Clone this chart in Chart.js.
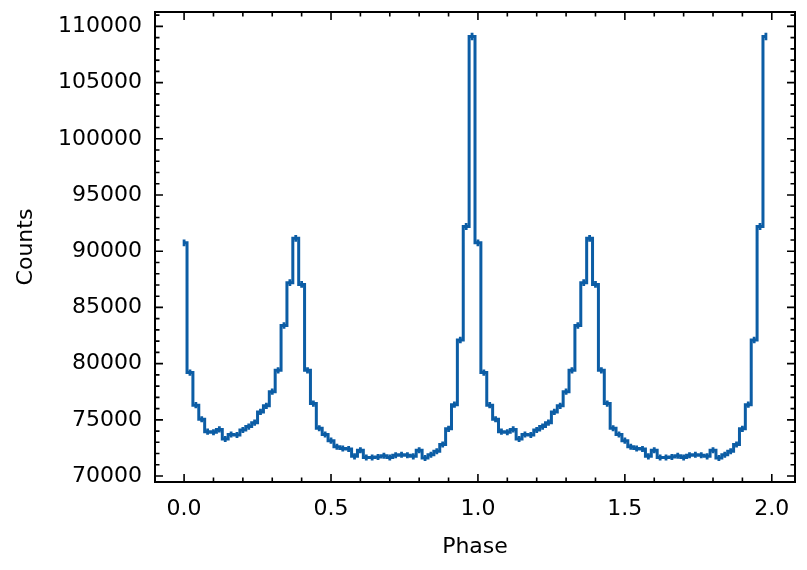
<!DOCTYPE html>
<html>
<head>
<meta charset="utf-8">
<script src="https://cdn.jsdelivr.net/npm/chart.js@4.4.0/dist/chart.umd.min.js"></script>
<style>
  html, body { margin: 0; padding: 0; background: #fff; }
</style>
</head>
<body>
<canvas id="profileChart" width="807" height="570"></canvas>
<script>
// pulse profile, one cycle (bin centres in phase, counts per bin)
const binPhase = [
  0.00, 0.02, 0.04, 0.06, 0.08, 0.10, 0.12, 0.14, 0.16, 0.18,
  0.20, 0.22, 0.24, 0.26, 0.28, 0.30, 0.32, 0.34, 0.36, 0.38,
  0.40, 0.42, 0.44, 0.46, 0.48, 0.50, 0.52, 0.54, 0.56, 0.58,
  0.60, 0.62, 0.64, 0.66, 0.68, 0.70, 0.72, 0.74, 0.76, 0.78,
  0.80, 0.82, 0.84, 0.86, 0.88, 0.90, 0.92, 0.94, 0.96, 0.98
];
const binCounts = [
  90750, 79200, 76300, 75050, 73950, 73900, 74150, 73300, 73700, 73650,
  74100, 74400, 74750, 75700, 76250, 77500, 79400, 83400, 87200, 91150,
  87050, 79400, 76450, 74250, 73700, 73150, 72600, 72450, 72400, 71750,
  72300, 71650, 71650, 71700, 71800, 71650, 71850, 71900, 71850, 71750,
  72300, 71600, 71900, 72200, 72800, 74200, 76350, 82100, 92200, 109100
];
const cycles = 2;
const xTickValues = [0, 0.5, 1, 1.5, 2];
const yTickValues = [70000, 75000, 80000, 85000, 90000, 95000, 100000, 105000, 110000];

// the profile is shown twice, phase 0-2
const phase = [];
const counts = [];
for (let c = 0; c < cycles; c++) {
  binPhase.forEach((p, i) => {
    phase.push(p + c);
    counts.push(binCounts[i]);
  });
}
const errors = counts.map(v => Math.sqrt(v)); // poisson errors

const lineColor = '#0C5DA5';
const font = { family: 'DejaVu Sans', size: 22 };

// error bars on every bin
const errorBars = {
  id: 'errorBars',
  afterDatasetsDraw(chart) {
    const { ctx, scales: { x, y } } = chart;
    ctx.save();
    ctx.strokeStyle = lineColor;
    ctx.lineWidth = 2.8;
    ctx.beginPath();
    phase.forEach((p, i) => {
      const px = x.getPixelForValue(p);
      ctx.moveTo(px, y.getPixelForValue(counts[i] + errors[i]));
      ctx.lineTo(px, y.getPixelForValue(counts[i] - errors[i]));
    });
    ctx.stroke();
    ctx.restore();
  }
};

// frame with inward ticks on all four sides
const frameTicks = {
  id: 'frameTicks',
  afterDraw(chart) {
    const { ctx, chartArea: a, scales: { x, y } } = chart;
    ctx.save();
    ctx.strokeStyle = '#000';
    ctx.lineWidth = 1.6;
    const major = 8, minor = 4.5;
    ctx.beginPath();
    for (let i = -1; i <= 21; i++) {
      const v = i / 10;
      if (v < x.min || v > x.max) continue;
      const px = x.getPixelForValue(v);
      const len = xTickValues.includes(v) ? major : minor;
      ctx.moveTo(px, a.bottom); ctx.lineTo(px, a.bottom - len);
      ctx.moveTo(px, a.top); ctx.lineTo(px, a.top + len);
    }
    for (let k = 69; k <= 112; k++) {
      const v = k * 1000;
      if (v < y.min || v > y.max) continue;
      const py = y.getPixelForValue(v);
      const len = yTickValues.includes(v) ? major : minor;
      ctx.moveTo(a.left, py); ctx.lineTo(a.left + len, py);
      ctx.moveTo(a.right, py); ctx.lineTo(a.right - len, py);
    }
    ctx.stroke();
    ctx.lineWidth = 2;
    ctx.strokeRect(a.left, a.top, a.right - a.left, a.bottom - a.top);
    ctx.restore();
  }
};

const ctx = document.getElementById('profileChart').getContext('2d');

const profileChart = new Chart(ctx, {
  type: 'line',
  data: {
    datasets: [{
      data: phase.map((p, i) => ({ x: p, y: counts[i] })),
      stepped: 'middle',
      borderColor: lineColor,
      borderWidth: 3,
      pointRadius: 0,
      fill: false
    }]
  },
  options: {
    responsive: false,
    animation: false,
    layout: { padding: { top: 12, right: 12, left: 0, bottom: 0 } },
    plugins: {
      legend: { display: false },
      tooltip: { enabled: false }
    },
    scales: {
      x: {
        type: 'linear',
        min: -0.099,
        max: 2.079,
        grid: { display: false, drawTicks: false },
        border: { display: false },
        afterBuildTicks: s => { s.ticks = xTickValues.map(v => ({ value: v })); },
        afterFit: s => { s.height = 88; s.paddingLeft = 0; s.paddingRight = 0; },
        ticks: { padding: 14, font: font, color: '#000', maxRotation: 0, callback: v => v.toFixed(1) },
        title: { display: true, text: 'Phase', font: font, color: '#000', padding: { top: 0, bottom: 10 } }
      },
      y: {
        min: 69470,
        max: 111280,
        grid: { display: false, drawTicks: false },
        border: { display: false },
        afterBuildTicks: s => { s.ticks = yTickValues.map(v => ({ value: v })); },
        afterFit: s => { s.width = 155; s.paddingTop = 0; s.paddingBottom = 0; },
        ticks: { padding: 13, font: font, color: '#000', callback: v => String(v) },
        title: { display: true, text: 'Counts', font: font, color: '#000', padding: { top: 13, bottom: 0 } }
      }
    }
  },
  plugins: [errorBars, frameTicks]
});
</script>
</body>
</html>
